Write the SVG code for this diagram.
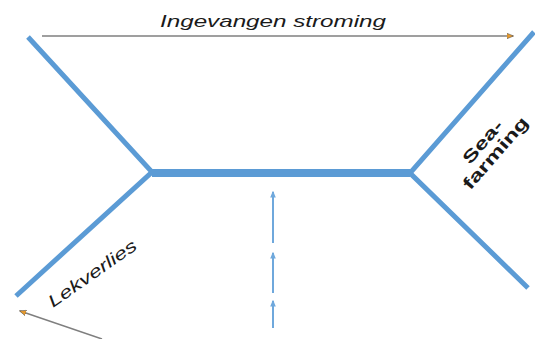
<svg xmlns="http://www.w3.org/2000/svg" width="535" height="339" viewBox="0 0 535 339">
<style>
.wall{stroke:#5b9bd5;stroke-width:5;fill:none;stroke-linecap:butt;stroke-linejoin:miter}
.flow{stroke:#6fa8dc;stroke-width:2;fill:none}
.arr{stroke:#7f7f7f;stroke-width:1.5;fill:none}
.lbl{font-family:"Liberation Sans",Arial,sans-serif;fill:#1a1a1a}
</style>
<defs>
<marker id="oh" viewBox="0 0 10 10" refX="9" refY="5" markerWidth="7" markerHeight="7" orient="auto" markerUnits="userSpaceOnUse">
<path d="M0,1 L10,5 L0,9 Z" fill="#e69a2e" stroke="#555" stroke-width="0.8"/>
</marker>
<marker id="bh" viewBox="0 0 10 10" refX="8" refY="5" markerWidth="7" markerHeight="7" orient="auto" markerUnits="userSpaceOnUse">
<path d="M0,1 L10,5 L0,9 Z" fill="#6fa8dc"/>
</marker>
</defs>
<g id="channel">
<polyline class="wall" points="28,37 152,172 16,296"/>
<polyline class="wall" points="534,32 410,173 528,288"/>
<line x1="152" y1="173" x2="410" y2="173" stroke="#5b9bd5" stroke-width="8"/>
</g>
<g id="connectors">
<line class="arr" x1="42" y1="36" x2="513" y2="36" marker-end="url(#oh)"/>
<line class="arr" x1="102" y1="339" x2="20" y2="311" marker-end="url(#oh)"/>
<line class="flow" x1="273" y1="243" x2="273" y2="192" marker-end="url(#bh)"/>
<line class="flow" x1="273" y1="293" x2="273" y2="253" marker-end="url(#bh)"/>
<line class="flow" x1="273" y1="328" x2="273" y2="301" marker-end="url(#bh)"/>
</g>
<g id="label-ingevangen">
<text class="lbl" x="160" y="27" font-size="17" font-style="italic" textLength="226" lengthAdjust="spacingAndGlyphs">Ingevangen stroming</text>
</g>
<g id="label-lekverlies">
<text class="lbl" x="0" y="0" font-size="17" font-style="italic" textLength="104" lengthAdjust="spacingAndGlyphs" transform="translate(53,308) rotate(-35)">Lekverlies</text>
</g>
<g id="label-seafarming">
<text class="lbl" font-size="17" font-weight="bold" fill="#000" text-anchor="middle" transform="translate(471,190) rotate(-49)"><tspan x="44" y="-17" textLength="52" lengthAdjust="spacingAndGlyphs">Sea-</tspan><tspan x="44" y="0" textLength="90" lengthAdjust="spacingAndGlyphs">farming</tspan></text>
</g>
</svg>
